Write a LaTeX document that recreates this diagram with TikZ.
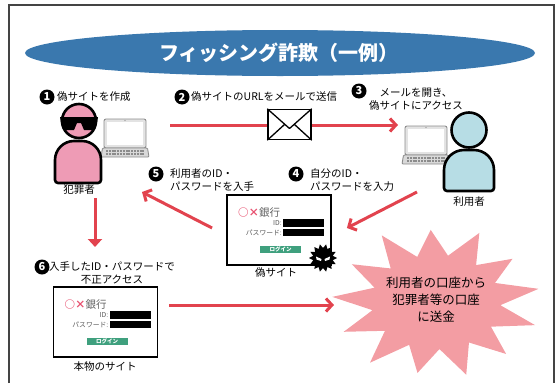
\documentclass[tikz,border=0pt]{standalone}
\usepackage{fontspec}
\setmainfont{Noto Sans CJK JP}
\usetikzlibrary{arrows.meta,calc}

\definecolor{titleblue}{HTML}{3A78AE}
\definecolor{arrowred}{HTML}{E2434E}
\definecolor{crookpink}{HTML}{EE9BB5}
\definecolor{userblue}{HTML}{B7DDE5}
\definecolor{burstpink}{HTML}{F39DA3}
\definecolor{logingreen}{HTML}{3FA07E}
\definecolor{logopink}{HTML}{E8506F}
\definecolor{framegray}{HTML}{444444}
\definecolor{lapgray}{HTML}{8C8C8C}

\tikzset{
  lbl/.style={font=\fontsize{10.5}{12.5}\selectfont, inner sep=0pt},
  num/.style={circle, fill=black, text=white, inner sep=0pt, minimum size=15pt,
    font=\bfseries\fontsize{11}{11}\selectfont},
  arr/.style={draw=arrowred, line width=3pt, -{Straight Barb[length=6pt,width=13pt]}},
  arrdown/.style={draw=arrowred, line width=3pt, -{Triangle[length=8pt,width=14pt]}},
  site/.style={draw=black, line width=1.8pt, fill=white, minimum width=104pt,
    minimum height=70pt, inner sep=0pt},
  fig/.style={draw=black, line width=2.6pt},
  % laptop, origin at the bottom centre of the screen
  laptop/.pic={
    \filldraw[fill=gray!22, draw=lapgray, line width=0.9pt, rounded corners=2pt]
      (-21,-29) rectangle (21,0);
    \fill[white] (-18,-26) rectangle (18,-3);
    \fill[lapgray] (0,-27.5) circle (0.6);
    \filldraw[fill=gray!30, draw=lapgray, line width=0.9pt, rounded corners=1pt]
      (-22.5,0) -- (22.5,0) -- (24,9) -- (-24,9) -- cycle;
    \draw[lapgray, line width=1.4pt, dash pattern=on 2pt off 0.8pt]
      (-19,3) -- (19,3) (-19,6) -- (19,6);
  },
  % bank login form, origin at the top left of the box
  bankform/.pic={
    \node[anchor=base west, inner sep=0pt, font=\fontsize{10.5}{10.5}\selectfont] (logo) at (11,21)
      {\textcolor{logopink}{\bfseries ○×}\textcolor{gray!75!black}{銀行}};
    \fill[black] (56,24) rectangle (97,32);
    \fill[black] (56,34) rectangle (97,41);
    \node[anchor=east, inner sep=0.5pt, text=gray!70!black, font=\fontsize{6.8}{6.8}\selectfont]
      (idlbl) at (55.5,28) {ID:};
    \node[anchor=east, inner sep=0.5pt, text=gray!70!black, font=\fontsize{6.8}{6.8}\selectfont]
      (pwlbl) at (55.5,37.5) {パスワード:};
    \fill[logingreen] (33,51) rectangle (74,58);
    \node[inner sep=0pt, text=white, font=\bfseries\fontsize{5.5}{5.5}\selectfont]
      (login) at (53.5,54.5) {ログイン};
  },
}

\begin{document}
\begin{tikzpicture}[x=1pt,y=-1pt]
\useasboundingbox (0,0) rectangle (559,383);

% outer frame, open at the bottom
\draw[framegray, line width=1.5pt] (9,383) -- (9,5) -- (554,5) -- (554,383);

% title banner
\fill[titleblue] (280,53) ellipse [x radius=255, y radius=23];
\node[text=white, font=\bfseries\fontsize{20}{20}\selectfont] (title) at (279,53)
  {フィッシング詐欺（一例）};

% ---- criminal with laptop
\pic at (125,148) {laptop};
\draw[fig, fill=crookpink] (55,183) [rounded corners=19pt] -- (55,141) -- (101,141)
  [rounded corners=3pt] -- (101,183) -- cycle;
\draw[fig, fill=crookpink] (79,121) circle (17);
\fill[black] (60,117) -- (98,117) -- (97,123) -- (94,130) -- (84,130) -- (81,123)
  -- (77,123) -- (74,130) -- (64,130) -- (61,123) -- cycle;
\node[lbl] (crook) at (79,190) {犯罪者};

% ---- user with laptop
\pic at (426,155) {laptop};
\draw[fig, fill=userblue] (444,191) [rounded corners=20pt] -- (444,150) -- (494,150)
  [rounded corners=3pt] -- (494,191) -- cycle;
\draw[fig, fill=userblue] (469,130) circle (17.5);
\node[lbl] (user) at (469,202) {利用者};

% ---- step labels
\node[num] (n1) at (47,97) {1};
\node[lbl, anchor=west] (t1) at (57,97) {偽サイトを作成};
\node[num] (n2) at (182,97) {2};
\node[lbl, anchor=west] (t2) at (191,97) {偽サイトのURLをメールで送信};
\node[num] (n3) at (359,91) {3};
\node[lbl, align=center] (t3) at (416,99) {メールを開き、\\偽サイトにアクセス};
\node[num] (n4) at (296,174) {4};
\node[lbl, align=left, anchor=west] (t4) at (310,180) {自分のID・\\パスワードを入力};
\node[num] (n5) at (156,174) {5};
\node[lbl, align=left, anchor=west] (t5) at (170,180) {利用者のID・\\パスワードを入手};
\node[num] (n6) at (42,267) {6};
\node[lbl, align=center] (t6) at (112,273) {入手したID・パスワードで\\不正アクセス};

% ---- mail arrow with envelope
\coordinate (mailfrom) at (170,125);
\coordinate (mailto) at (398,125);
\draw[arr] (mailfrom) -- (mailto);
\node[draw=black, fill=white, line width=1.5pt, minimum width=43pt, minimum height=30pt,
  inner sep=0pt] (mail) at (289.5,124.5) {};
\draw[black, line width=1.3pt, line join=round]
  (mail.north west) -- ($(mail.center)+(0,4)$) -- (mail.north east)
  (mail.south west) -- ($(mail.center)+(-5,0)$)
  (mail.south east) -- ($(mail.center)+(5,0)$);

% ---- bank burst
\begin{scope}[shift={(436,302)}]
  \fill[burstpink] (-10:104 and 76)
    \foreach \k/\f in {0/0.93,1/1.0,2/0.95,3/1.02,4/0.95,5/1.0,6/0.97,7/1.02,8/0.95,9/1.0,10/0.96,11/1.0,12/1.0}
      { -- ({-(10+\k*27.69+13.85)}:{0.62*104} and {0.62*76})
        -- ({-(10+(\k+1)*27.69)}:{\f*104} and {\f*76}) } -- cycle;
\end{scope}
\node[align=center, inner sep=0pt, font=\fontsize{12.5}{17}\selectfont] (burst) at (436,300)
  {利用者の口座から\\犯罪者等の口座\\に送金};

% ---- fake site
\node[site] (fakesite) at (279,230) {};
\pic (fk) at (227,195) {bankform};
\node[lbl] (fakelbl) at (276,273) {偽サイト};
\begin{scope}[shift={(323,258)}]
  \fill[black] (0:14) \foreach \i in {1,...,27}
    { -- ({\i*360/28}:{ifthenelse(mod(\i,2)==0,14,10)}) } -- cycle;
  \fill[white] (-7,-1.5) -- (-1.5,1) -- (-2,3) -- (-6.5,1.5) -- cycle;
  \fill[white] (7,-1.5) -- (1.5,1) -- (2,3) -- (6.5,1.5) -- cycle;
\end{scope}

% ---- genuine site
\node[site] (realsite) at (105.5,322) {};
\pic (rl) at (53.5,287) {bankform};
\node[lbl] (reallbl) at (105,367) {本物のサイト};

% ---- connectors
\coordinate (userpc) at (417,192);
\coordinate (crookpc) at (142,192);
\coordinate (crookfoot) at (95,198);
\coordinate (accessto) at (334,305);
\draw[arr] (userpc) -- ([xshift=15pt,yshift=2pt]fakesite.east);
\draw[arr] ([xshift=-14pt,yshift=2pt]fakesite.west) -- (crookpc);
\draw[arrdown] (crookfoot) -- (crookfoot |- 0,247);
\draw[arr] ([xshift=11pt]realsite.east |- accessto) -- (accessto);
\end{tikzpicture}
\end{document}
